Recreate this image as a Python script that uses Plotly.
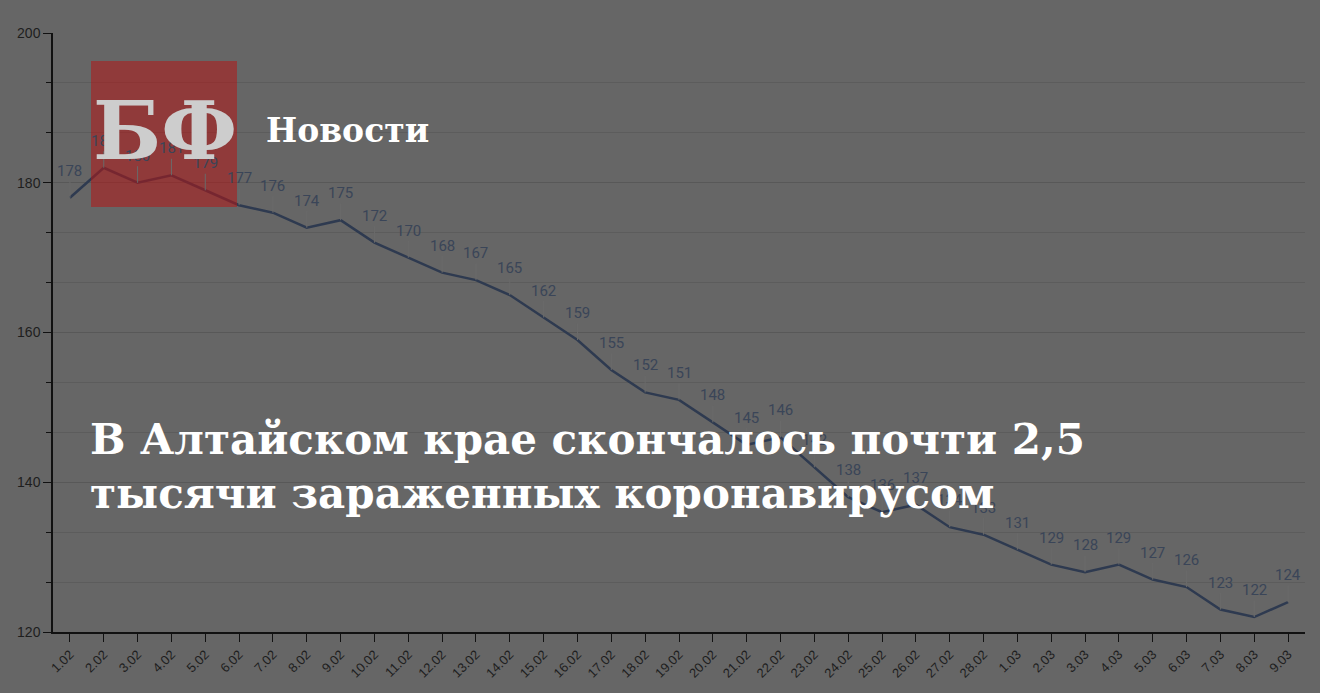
import plotly.graph_objects as go

dates = ["1.02", "2.02", "3.02", "4.02", "5.02", "6.02", "7.02", "8.02", "9.02", "10.02",
         "11.02", "12.02", "13.02", "14.02", "15.02", "16.02", "17.02", "18.02", "19.02", "20.02",
         "21.02", "22.02", "23.02", "24.02", "25.02", "26.02", "27.02", "28.02", "1.03", "2.03",
         "3.03", "4.03", "5.03", "6.03", "7.03", "8.03", "9.03"]
values = [178, 182, 180, 181, 179, 177, 176, 174, 175, 172,
          170, 168, 167, 165, 162, 159, 155, 152, 151, 148,
          145, 146, 142, 138, 136, 137, 134, 133, 131, 129,
          128, 129, 127, 126, 123, 122, 124]
y_labels = [120, 140, 160, 180, 200]

title_line1 = "В Алтайском крае скончалось почти 2,5"
title_line2 = "тысячи зараженных коронавирусом"
logo_text = "БФ"
brand_text = "Новости"

W, H = 1320, 693
ML, MR, MT, MB = 53, 15, 33, 61
PW, PH = W - ML - MR, H - MT - MB


def px(x):
    return (x - ML) / PW


def py(y):
    return 1 - (y - MT) / PH


BG = "#666666"
idx = list(range(len(dates)))
fig = go.Figure()
fig.add_trace(go.Scatter(
    x=idx, y=values, mode="lines",
    line=dict(color="#2e3a50", width=2.5),
    hoverinfo="skip", showlegend=False,
))

annotations = []
for i, v in zip(idx, values):
    annotations.append(dict(
        x=i, y=v, xref="x", yref="y", text=str(v),
        showarrow=True, arrowhead=0, arrowwidth=1, arrowcolor="#6a6a6a",
        ax=0, ay=-27, standoff=0,
        font=dict(family="Roboto, sans-serif", size=15, color="#3a4558"),
    ))

serif = "DejaVu Serif, serif"
annotations += [
    dict(x=px(165), y=py(131), xref="paper", yref="paper", text="<b>" + logo_text + "</b>",
         showarrow=False, xanchor="center", yanchor="middle",
         font=dict(family=serif, size=80, color="#cdcdcd")),
    dict(x=px(264), y=py(130), xref="paper", yref="paper", text="<b>" + brand_text + "</b>",
         showarrow=False, xanchor="left", yanchor="middle",
         font=dict(family=serif, size=33, color="#ffffff")),
    dict(x=px(88), y=py(440), xref="paper", yref="paper", text="<b>" + title_line1 + "</b>",
         showarrow=False, xanchor="left", yanchor="middle",
         font=dict(family=serif, size=42, color="#ffffff")),
    dict(x=px(88), y=py(493), xref="paper", yref="paper", text="<b>" + title_line2 + "</b>",
         showarrow=False, xanchor="left", yanchor="middle",
         font=dict(family=serif, size=42, color="#ffffff")),
]

shapes = [dict(
    type="rect", xref="paper", yref="paper",
    x0=px(91), x1=px(237), y0=py(207), y1=py(61),
    fillcolor="rgba(178,22,22,0.55)", line=dict(width=0), layer="above",
)]

fig.update_layout(
    width=W, height=H,
    margin=dict(l=ML, r=MR, t=MT, b=MB, autoexpand=False),
    paper_bgcolor=BG, plot_bgcolor=BG,
    annotations=annotations, shapes=shapes,
    xaxis=dict(
        tickmode="array", tickvals=idx, ticktext=dates,
        range=[-0.5, len(dates) - 0.5], automargin=False,
        showgrid=False, showline=True, linecolor="#111111", linewidth=1.5,
        ticks="outside", ticklen=8, tickcolor="#111111", tickangle=-45,
        tickfont=dict(family="Liberation Sans, Arial, sans-serif", size=13, color="#1e1e1e"),
        zeroline=False,
    ),
    yaxis=dict(
        range=[120, 200], tickvals=y_labels, ticktext=[str(v) for v in y_labels],
        automargin=False,
        showgrid=True, gridcolor="#585858", gridwidth=1,
        showline=True, linecolor="#111111", linewidth=1.5,
        ticks="outside", ticklen=8, tickcolor="#111111",
        tickfont=dict(family="Liberation Sans, Arial, sans-serif", size=14, color="#1e1e1e"),
        zeroline=False,
        minor=dict(tickvals=[120 + 20 * i / 3 for i in range(13)], showgrid=True,
                   gridcolor="#5c5c5c", ticks="outside", ticklen=5, tickcolor="#111111"),
    ),
)

fig.write_html("out.html", config={"displayModeBar": False},
               post_script="document.body.style.margin='0';document.body.style.background='#666666';")
